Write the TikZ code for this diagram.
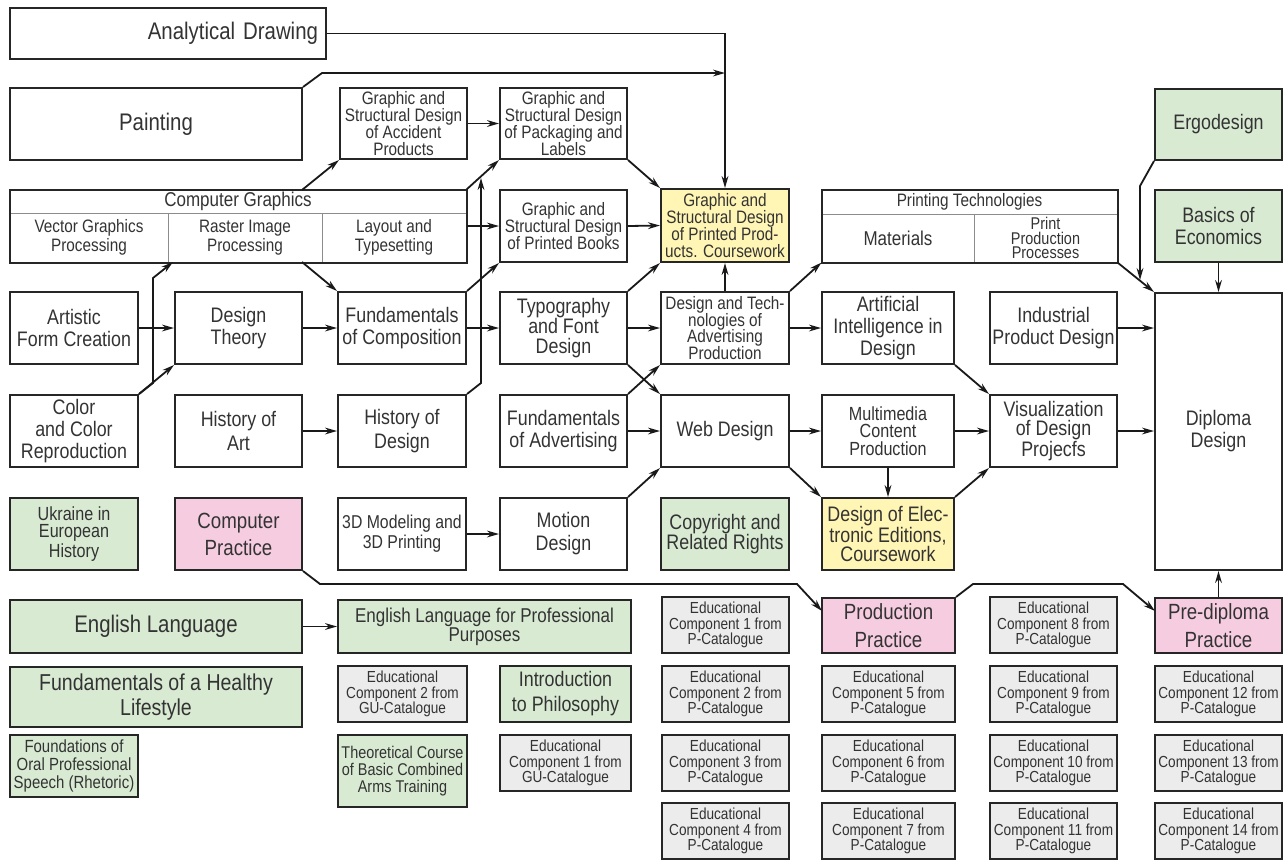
\documentclass[tikz,border=0pt]{standalone}
\usepackage{fontspec}
\setmainfont{Liberation Sans}[FakeStretch=0.85]
\usetikzlibrary{arrows.meta}

\definecolor{boxgreen}{RGB}{217,234,211}
\definecolor{boxpink}{RGB}{246,204,224}
\definecolor{boxyellow}{RGB}{255,245,180}
\definecolor{boxgray}{RGB}{236,236,236}

\newcommand\bigtxt{\fontsize{12}{13}\selectfont}
\newcommand\midtxt{\fontsize{10.5}{11}\selectfont}
\newcommand\smltxt{\fontsize{9}{8.4}\selectfont}
\newcommand\edtxt{\fontsize{8}{7.6}\selectfont}

\begin{document}
\begin{tikzpicture}[x=0.5pt,y=-0.5pt,
  box/.style={draw=black!85, line width=1pt, fill=white, align=center, inner sep=1pt,
    text=black!80, minimum width=64pt, minimum height=36pt, font=\midtxt},
  cell/.style={draw=black!45, line width=0.5pt, align=center, inner sep=0pt, text=black!80},
  greenbox/.style={fill=boxgreen},
  pinkbox/.style={fill=boxpink},
  yellowbox/.style={fill=boxyellow},
  edbox/.style={fill=boxgray, font=\edtxt, minimum width=63.5pt, minimum height=28pt},
  arr/.style={-{Stealth[length=6pt,width=3.4pt]}, line width=0.9pt, draw=black!90}]

 \useasboundingbox (0,0) rectangle (1285,859);

 % top boxes
 \node[box, minimum width=158pt, minimum height=25.5pt, text width=150pt, align=right, font=\bigtxt] (ad) at (168,33.5) {Analytical Drawing};
 \node[box, minimum width=146pt, font=\bigtxt] (pnt) at (156,124) {Painting};
 \node[box, minimum width=63.5pt, minimum height=35.5pt, font=\smltxt] (acc) at (403.5,123.5) {Graphic and\\Structural Design\\of Accident\\Products};
 \node[box, minimum width=63.5pt, minimum height=35.5pt, font=\smltxt] (pkg) at (563.5,123.5) {Graphic and\\Structural Design\\of Packaging and\\Labels};
 \node[box, greenbox, minimum width=63.5pt, minimum height=35.5pt] (erg) at (1218.5,124.5) {Ergodesign};

 % computer graphics table
 \node[cell, minimum width=228pt, minimum height=11.5pt, font=\fontsize{10}{11}\selectfont] (cg) at (238,201.5) {Computer Graphics};
 \node[cell, minimum width=79pt, minimum height=24.5pt, font=\fontsize{9}{7.8}\selectfont] (cgv) at (89,237.5) {Vector Graphics\\Processing};
 \node[cell, minimum width=77pt, minimum height=24.5pt, font=\fontsize{9}{7.8}\selectfont] (cgr) at (245,237.5) {Raster Image\\Processing};
 \node[cell, minimum width=72pt, minimum height=24.5pt, font=\fontsize{9}{7.8}\selectfont] (cgl) at (394,237.5) {Layout and\\Typesetting};
 \draw[line width=1pt, draw=black!85] (cg.north west) rectangle (cgl.south east);

 % printing technologies table
 \node[cell, minimum width=147.5pt, minimum height=12pt, font=\fontsize{9}{10}\selectfont] (pt) at (969.5,202) {Printing Technologies};
 \node[cell, minimum width=76pt, minimum height=24pt, font=\fontsize{10}{11}\selectfont] (ptm) at (898,238) {Materials};
 \node[cell, minimum width=71.5pt, minimum height=24pt, font=\fontsize{8.5}{7.4}\selectfont] (ptp) at (1045.5,238) {Print\\Production\\Processes};
 \draw[line width=1pt, draw=black!85] (pt.north west) rectangle (ptp.south east);

 \node[box, minimum width=63.5pt, font=\smltxt] (gbk) at (563.5,226) {Graphic and\\Structural Design\\of Printed Books};
 \node[box, yellowbox, minimum height=36.5pt, font=\smltxt] (ppr) at (725,225.5) {Graphic and\\Structural Design\\of Printed Prod-\\ucts. Coursework};
 \node[box, greenbox, minimum width=63.5pt] (eco) at (1218.5,226) {Basics of\\Economics};

 % third row
 \node[box] (art) at (74,328) {Artistic\\Form Creation};
 \node[box, minimum width=63.5pt] (dth) at (238.5,328) {Design\\Theory};
 \node[box] (fund) at (402,328) {Fundamentals\\of Composition};
 \node[box, minimum width=63.5pt, font=\fontsize{10.5}{10}\selectfont] (typ) at (563.5,328) {Typography\\and Font\\Design};
 \node[box, font=\smltxt] (dta) at (725,328) {Design and Tech-\\nologies of\\Advertising\\Production};
 \node[box, minimum width=66pt] (ai) at (888,328) {Artificial\\Intelligence in\\Design};
 \node[box, minimum width=63.5pt] (ind) at (1053.5,328) {Industrial\\Product Design};
 \node[box, minimum width=63.5pt, minimum height=138.5pt] (dip) at (1218.5,431.5) {Diploma\\Design};

 % fourth row
 \node[box] (col) at (74,431) {Color\\and Color\\Reproduction};
 \node[box, minimum width=63.5pt, font=\fontsize{10.5}{12}\selectfont] (hart) at (238.5,431) {History of\\Art};
 \node[box, font=\fontsize{10.5}{12}\selectfont] (hdes) at (402,431) {History of\\Design};
 \node[box, minimum width=63.5pt] (fad) at (563.5,431) {Fundamentals\\of Advertising};
 \node[box] (web) at (725,431) {Web Design};
 \node[box, minimum width=66pt, font=\fontsize{9.5}{8.8}\selectfont] (mm) at (888,431) {Multimedia\\Content\\Production};
 \node[box, minimum width=63.5pt, font=\fontsize{10.5}{9.6}\selectfont] (vis) at (1053.5,431) {Visualization\\of Design\\Projecfs};

 % fifth row
 \node[box, greenbox, font=\fontsize{9.5}{8.3}\selectfont] (ukr) at (74,534) {Ukraine in\\European\\History};
 \node[box, pinkbox, minimum width=63.5pt, font=\fontsize{11}{13.5}\selectfont] (cpr) at (238.5,534) {Computer\\Practice};
 \node[box, font=\fontsize{9.3}{10}\selectfont] (mod) at (402,534) {3D Modeling and\\3D Printing};
 \node[box, minimum width=63.5pt, font=\fontsize{10.5}{11.5}\selectfont] (mot) at (563.5,534) {Motion\\Design};
 \node[box, greenbox, font=\fontsize{10.5}{10}\selectfont] (cop) at (725,534) {Copyright and\\Related Rights};
 \node[box, yellowbox, minimum width=66pt, font=\fontsize{10.5}{9.6}\selectfont] (ede) at (888,534) {Design of Elec-\\tronic Editions,\\Coursework};

 % lower rows
 \node[box, greenbox, minimum width=146pt, minimum height=26.5pt, font=\bigtxt] (eng) at (156,626.5) {English Language};
 \node[box, greenbox, minimum width=146.5pt, minimum height=26.5pt, font=\fontsize{10}{9.5}\selectfont] (engp) at (484.5,626.5) {English Language for Professional\\Purposes};
 \node[box, edbox] (ep1) at (725.5,625) {Educational\\Component 1 from\\P-Catalogue};
 \node[box, pinkbox, minimum width=66.5pt, minimum height=27.5pt, font=\fontsize{11}{14}\selectfont] (prp) at (888.5,625.5) {Production\\Practice};
 \node[box, edbox] (ep8) at (1053.5,625) {Educational\\Component 8 from\\P-Catalogue};
 \node[box, pinkbox, minimum width=63.5pt, minimum height=27.5pt, font=\fontsize{11}{14}\selectfont] (pdp) at (1218.5,625.5) {Pre-diploma\\Practice};

 \node[box, greenbox, minimum width=146pt, minimum height=30pt, font=\fontsize{11.5}{12.5}\selectfont] (hls) at (156,697) {Fundamentals of a Healthy\\Lifestyle};
 \node[box, edbox, minimum width=64.5pt] (gu2) at (402.5,694) {Educational\\Component 2 from\\GU-Catalogue};
 \node[box, greenbox, minimum width=65.5pt, minimum height=28pt, font=\fontsize{10.5}{12.5}\selectfont] (phi) at (565.5,694) {Introduction\\to Philosophy};
 \node[box, edbox] (ep2) at (725.5,694) {Educational\\Component 2 from\\P-Catalogue};
 \node[box, edbox, minimum width=66.5pt] (ep5) at (888.5,694) {Educational\\Component 5 from\\P-Catalogue};
 \node[box, edbox] (ep9) at (1053.5,694) {Educational\\Component 9 from\\P-Catalogue};
 \node[box, edbox] (ep12) at (1218.5,694) {Educational\\Component 12 from\\P-Catalogue};

 \node[box, greenbox, minimum height=31pt, font=\fontsize{8.8}{9}\selectfont] (rhe) at (74,766) {Foundations of\\Oral Professional\\Speech (Rhetoric)};
 \node[box, greenbox, minimum width=64.5pt, font=\fontsize{8.5}{8.6}\selectfont] (tcb) at (402.5,771) {Theoretical Course\\of Basic Combined\\Arms Training};
 \node[box, edbox, minimum width=65.5pt] (gu1) at (565.5,763) {Educational\\Component 1 from\\GU-Catalogue};
 \node[box, edbox] (ep3) at (725.5,763) {Educational\\Component 3 from\\P-Catalogue};
 \node[box, edbox, minimum width=66.5pt] (ep6) at (888.5,763) {Educational\\Component 6 from\\P-Catalogue};
 \node[box, edbox] (ep10) at (1053.5,763) {Educational\\Component 10 from\\P-Catalogue};
 \node[box, edbox] (ep13) at (1218.5,763) {Educational\\Component 13 from\\P-Catalogue};

 \node[box, edbox] (ep4) at (725.5,831) {Educational\\Component 4 from\\P-Catalogue};
 \node[box, edbox, minimum width=66.5pt] (ep7) at (888.5,831) {Educational\\Component 7 from\\P-Catalogue};
 \node[box, edbox] (ep11) at (1053.5,831) {Educational\\Component 11 from\\P-Catalogue};
 \node[box, edbox] (ep14) at (1218.5,831) {Educational\\Component 14 from\\P-Catalogue};

 % bend points
 \coordinate (pntbend) at (322,73);
 \coordinate (pntend) at (725,73);
 \coordinate (cgtop) at (302,190);
 \coordinate (cgbot) at (302,262);
 \coordinate (colbend) at (153,383);
 \coordinate (colup) at (153,278);
 \coordinate (rasterin) at (173,262);
 \coordinate (hdesbend) at (481,383);
 \coordinate (hdesend) at (481,178);
 \coordinate (ergbend) at (1140,186);
 \coordinate (ergend) at (1140,280);
 \coordinate (cprbend) at (320,584);
 \coordinate (cprrun) at (797,584);
 \coordinate (prpin) at (822,611);
 \coordinate (prpbend) at (973,584);
 \coordinate (prprun) at (1123,584);
 \coordinate (pdpin) at (1155,611);

 % arrows
 \draw[arr] (ad.east) -| (ppr.north);
 \draw[arr] (pnt.north east) -- (pntbend) -- (pntend);
 \draw[arr] (cgtop) -- (acc.south west);
 \draw[arr] (cg.north east) -- (pkg.south west);
 \draw[arr] (acc.east) -- (pkg.west);
 \draw[arr] (cgl.east |- gbk.west) -- (gbk.west);
 \draw[arr] (pkg.south east) -- (ppr.north west);
 \draw[arr] (gbk.east) -- (ppr.west);
 \draw[arr] (cgbot) -- (fund.north west);
 \draw[arr] (col.north east) -- (colbend) -- (colup) -- (rasterin);
 \draw[arr] (hdes.north east) -- (hdesbend) -- (hdesend);
 \draw[arr] (art.east) -- (dth.west);
 \draw[arr] (col.north east) -- (dth.south west);
 \draw[arr] (dth.east) -- (fund.west);
 \draw[arr] (fund.east) -- (typ.west);
 \draw[arr] (fund.north east) -- (gbk.south west);
 \draw[arr] (hart.east) -- (hdes.west);
 \draw[arr] (typ.north east) -- (ppr.south west);
 \draw[arr] (typ.east) -- (dta.west);
 \draw[arr] (typ.south east) -- (web.north west);
 \draw[arr] (fad.north east) -- (dta.south west);
 \draw[arr] (fad.east) -- (web.west);
 \draw[arr] (mot.north east) -- (web.south west);
 \draw[arr] (mod.east) -- (mot.west);
 \draw[arr] (dta.north) -- (ppr.south);
 \draw[arr] (dta.north east) -- (ptm.south west);
 \draw[arr] (dta.east) -- (ai.west);
 \draw[arr] (ai.south east) -- (vis.north west);
 \draw[arr] (web.east) -- (mm.west);
 \draw[arr] (web.south east) -- (ede.north west);
 \draw[arr] (mm.south) -- (ede.north);
 \draw[arr] (mm.east) -- (vis.west);
 \draw[arr] (ede.north east) -- (vis.south west);
 \draw[arr] (vis.east) -- (vis.east -| dip.west);
 \draw[arr] (ind.east) -- (ind.east -| dip.west);
 \draw[arr] (ptp.south east) -- (dip.north west);
 \draw[arr] (erg.south west) -- (ergbend) -- (ergend);
 \draw[arr] (eco.south) -- (dip.north);
 \draw[arr] (pdp.north) -- (dip.south);
 \draw[arr] (eng.east) -- (engp.west);
 \draw[arr] (cpr.south east) -- (cprbend) -- (cprrun) -- (prpin);
 \draw[arr] (prp.north east) -- (prpbend) -- (prprun) -- (pdpin);

\end{tikzpicture}
\end{document}
